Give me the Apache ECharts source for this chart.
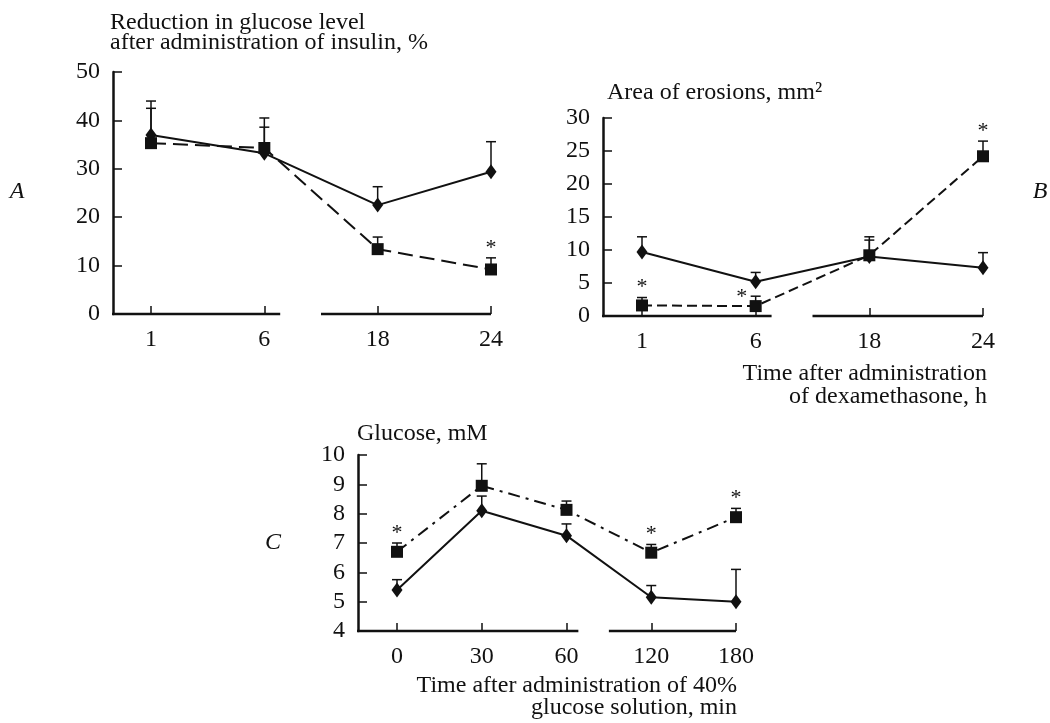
<!DOCTYPE html>
<html>
<head>
<meta charset="utf-8">
<script src="https://cdn.jsdelivr.net/npm/echarts@6/dist/echarts.min.js"></script>
<style>
  html, body { margin: 0; background: #fff; }
  #chart { width: 1050px; height: 723px; }
</style>
</head>
<body>
<div id="chart"></div>
<script>
// A: reduction in glucose level after insulin, %
const hoursA = ['1', '6', '18', '24'];
const insulinCtrl = [37, 33.2, 22.5, 29.4];
const insulinCtrlTop = [44, 40.5, 26.3, 35.6];
const insulinDex = [35.3, 34.3, 13.4, 9.2];
const insulinDexTop = [42.5, 38.6, 15.9, 11.6];
const starsA = [null, null, null, 'top'];

// B: area of erosions, mm2
const hoursB = ['1', '6', '18', '24'];
const erosionCtrl = [9.7, 5.2, 9.0, 7.3];
const erosionCtrlTop = [12, 6.6, 12, 9.6];
const erosionDex = [1.6, 1.5, 9.2, 24.2];
const erosionDexTop = [2.8, 3.0, 11.5, 26.5];
const starsB = ['top', 'left', null, 'top'];

// C: glucose, mM
const minutesC = ['0', '30', '60', '120', '180'];
const glucoseCtrl = [5.4, 8.1, 7.25, 5.15, 5.0];
const glucoseCtrlTop = [5.75, 8.6, 7.65, 5.55, 6.1];
const glucoseDex = [6.7, 8.95, 8.13, 6.67, 7.88];
const glucoseDexTop = [7.0, 9.7, 8.43, 6.95, 8.18];
const starsC = ['top', null, null, 'top', 'top'];

const ink = '#111';
const serif = '"Liberation Serif", "DejaVu Serif", serif';
const fontPx = 24;

const panels = [
  { cats: hoursA, ymin: 0, ymax: 50, step: 10, offset: 38, brk: 1,
    grid: { left: 151, right: 559, top: 72, bottom: 409 } },
  { cats: hoursB, ymin: 0, ymax: 30, step: 5, offset: 39, brk: 1,
    grid: { left: 642, right: 67, top: 118, bottom: 407 } },
  { cats: minutesC, ymin: 4, ymax: 10, step: 1, offset: 39, brk: 2,
    grid: { left: 397, right: 314, top: 455, bottom: 92 } }
];

function xAxisFor(i, p) {
  return {
    type: 'category', gridIndex: i, data: p.cats, boundaryGap: false,
    axisLine: { show: false },
    axisTick: { show: true, inside: true, length: 8, interval: 0,
      lineStyle: { color: ink, width: 1.5 } },
    axisLabel: { interval: 0, margin: 14, color: ink, fontFamily: serif, fontSize: fontPx },
    splitLine: { show: false }
  };
}

function yAxisFor(i, p) {
  return {
    type: 'value', gridIndex: i, min: p.ymin, max: p.ymax, interval: p.step, offset: p.offset,
    axisLine: { show: true, lineStyle: { color: ink, width: 2.5 } },
    axisTick: { show: true, inside: true, length: 9, lineStyle: { color: ink, width: 1.5 } },
    axisLabel: { margin: 13, color: ink, fontFamily: serif, fontSize: fontPx },
    splitLine: { show: false }
  };
}

function lineSeries(i, vals, symbol, size, dash) {
  return {
    type: 'line', xAxisIndex: i, yAxisIndex: i, data: vals, z: 4,
    symbol: symbol, symbolSize: size, showSymbol: true,
    lineStyle: { color: ink, width: 2, type: dash },
    itemStyle: { color: ink }
  };
}

// upper error bars, plus significance asterisks
function errorSeries(i, vals, tops, stars) {
  return {
    type: 'custom', xAxisIndex: i, yAxisIndex: i, z: 3, silent: true,
    data: vals.map((v, k) => [k, v, tops[k]]),
    renderItem: function (params, api) {
      const base = api.coord([api.value(0), api.value(1)]);
      const top = api.coord([api.value(0), api.value(2)]);
      const line = { stroke: ink, lineWidth: 1.5 };
      const kids = [
        { type: 'line', shape: { x1: base[0], y1: base[1], x2: top[0], y2: top[1] }, style: line },
        { type: 'line', shape: { x1: top[0] - 5, y1: top[1], x2: top[0] + 5, y2: top[1] }, style: line }
      ];
      const s = stars[params.dataIndex];
      if (s) {
        const left = s === 'left';
        kids.push({
          type: 'text',
          x: left ? top[0] - 14 : top[0],
          y: left ? top[1] + 1 : top[1] - 10,
          style: { text: '*', fill: ink, font: '22px ' + serif, align: 'center', verticalAlign: 'middle' }
        });
      }
      return { type: 'group', children: kids };
    }
  };
}

const series = [
  errorSeries(0, insulinCtrl, insulinCtrlTop, [null, null, null, null]),
  errorSeries(0, insulinDex, insulinDexTop, starsA),
  lineSeries(0, insulinCtrl, 'diamond', [11, 15], 'solid'),
  lineSeries(0, insulinDex, 'rect', [12, 12], [15, 7]),

  errorSeries(1, erosionCtrl, erosionCtrlTop, [null, null, null, null]),
  errorSeries(1, erosionDex, erosionDexTop, starsB),
  lineSeries(1, erosionCtrl, 'diamond', [11, 15], 'solid'),
  lineSeries(1, erosionDex, 'rect', [12, 12], [10, 5]),

  errorSeries(2, glucoseCtrl, glucoseCtrlTop, [null, null, null, null, null]),
  errorSeries(2, glucoseDex, glucoseDexTop, starsC),
  lineSeries(2, glucoseCtrl, 'diamond', [11, 15], 'solid'),
  lineSeries(2, glucoseDex, 'rect', [12, 12], [12, 6, 3, 6])
];

function txt(x, y, text, align, italic) {
  return {
    type: 'text', x: x, y: y, silent: true,
    style: {
      text: text, fill: ink, font: (italic ? 'italic ' : '') + fontPx + 'px ' + serif,
      align: align || 'left', verticalAlign: 'middle'
    }
  };
}

const labels = [
  txt(110, 23, 'Reduction in glucose level'),
  txt(110, 43, 'after administration of insulin, %'),
  txt(17, 192, 'A', 'center', true),
  txt(607, 93, 'Area of erosions, mm²'),
  txt(1040, 192, 'B', 'center', true),
  txt(987, 374, 'Time after administration', 'right'),
  txt(987, 397, 'of dexamethasone, h', 'right'),
  txt(357, 434, 'Glucose, mM'),
  txt(273, 543, 'C', 'center', true),
  txt(737, 686, 'Time after administration of 40%', 'right'),
  txt(737, 708, 'glucose solution, min', 'right')
];

const chart = echarts.init(document.getElementById('chart'));
chart.setOption({
  animation: false,
  backgroundColor: '#fff',
  grid: panels.map(p => p.grid),
  xAxis: panels.map((p, i) => xAxisFor(i, p)),
  yAxis: panels.map((p, i) => yAxisFor(i, p)),
  series: series
});

// broken x-axis lines: one piece up to just past the break, one from mid-gap to the end
const axisPieces = [];
panels.forEach((p, i) => {
  const a = chart.convertToPixel({ xAxisIndex: i, yAxisIndex: i }, [p.cats[0], p.ymin]);
  const b = chart.convertToPixel({ xAxisIndex: i, yAxisIndex: i }, [p.cats[1], p.ymin]);
  const band = b[0] - a[0];
  const at = k => a[0] + band * k;
  const y = a[1];
  const style = { stroke: ink, lineWidth: 2.5 };
  axisPieces.push(
    { type: 'line', silent: true, shape: { x1: a[0] - p.offset - 1, y1: y, x2: at(p.brk + 0.14), y2: y }, style: style },
    { type: 'line', silent: true, shape: { x1: at(p.brk + 0.5), y1: y, x2: at(p.cats.length - 1), y2: y }, style: style }
  );
});

chart.setOption({ graphic: labels.concat(axisPieces) });
</script>
</body>
</html>
